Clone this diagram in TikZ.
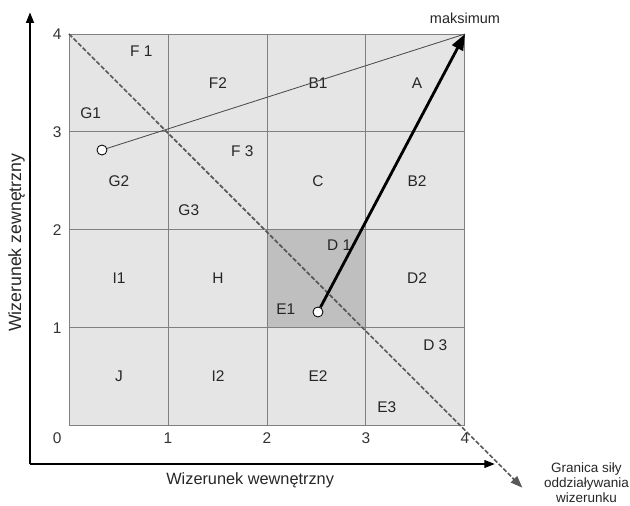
\documentclass[tikz,border=0pt]{standalone}
\usepackage{fontspec}
\setmainfont{Liberation Sans}
\usetikzlibrary{arrows.meta,positioning}
\definecolor{cellgray}{gray}{0.90}
\definecolor{markgray}{gray}{0.75}
\definecolor{linegray}{gray}{0.50}
\tikzset{
  field/.style={font=\fontsize{11}{13}\selectfont, text=black!85, inner sep=1pt},
  tick/.style={font=\fontsize{11}{13}\selectfont, text=black!80, inner sep=1pt},
  axislabel/.style={font=\fontsize{11.6}{14}\selectfont, text=black!85, inner sep=1pt},
  note/.style={font=\fontsize{9.6}{10.7}\selectfont, text=black!85, align=center, inner sep=1pt},
  dot/.style={circle, draw=black, fill=white, line width=0.6pt, minimum size=0.25cm, inner sep=0pt},
  axis/.style={-{Triangle[length=2.6mm, width=2mm]}, line width=0.8pt, draw=black},
  border/.style={-{Triangle[length=3mm, width=2.2mm]}, line width=1.2pt, draw=black!65, dash pattern=on 3.2pt off 1.4pt},
  path/.style={line width=0.6pt, draw=black!70},
  move/.style={-{Triangle[length=4mm, width=3mm]}, line width=2pt, draw=black}
}

\begin{document}
\begin{tikzpicture}[x=2.475cm, y=2.45cm]
  \useasboundingbox (-0.697,-0.816) rectangle (5.667,4.347);

  % pola macierzy
  \fill[cellgray] (0,0) rectangle (4,4);
  \fill[markgray] (2,1) rectangle (3,2);
  \foreach \i in {0,...,4} {
    \draw[linegray, line width=0.7pt] (\i,0) -- (\i,4);
    \draw[linegray, line width=0.7pt] (0,\i) -- (4,\i);
  }

  % osie
  \coordinate (corner) at (-0.394,-0.388);
  \coordinate (ytop) at (-0.394,4.22);
  \coordinate (xend) at (4.30,-0.388);
  \draw[axis] (corner) -- (ytop);
  \draw[axis] (corner) -- (xend);

  \foreach \v in {1,2,3,4} {
    \node[tick] (x\v) at (\v,-0.12) {\v};
    \node[tick] (y\v) at (-0.12,\v) {\v};
  }
  \node[tick] (zero) at (-0.12,-0.12) {0};

  \node[axislabel] (xlab) at (1.83,-0.55) {Wizerunek wewnętrzny};
  \node[axislabel, font=\fontsize{12.6}{15}\selectfont, rotate=90] (ylab) at (-0.53,1.87) {Wizerunek zewnętrzny};

  % opisy pól
  \node[field] (F1) at (0.73,3.82) {F 1};
  \node[field] (F2) at (1.505,3.50) {F2};
  \node[field] (B1) at (2.515,3.50) {B1};
  \node[field] (A) at (3.515,3.50) {A};
  \node[field] (G1) at (0.22,3.19) {G1};
  \node[field] (F3) at (1.75,2.80) {F 3};
  \node[field] (G2) at (0.505,2.50) {G2};
  \node[field] (C) at (2.515,2.50) {C};
  \node[field] (B2) at (3.515,2.50) {B2};
  \node[field] (G3) at (1.21,2.20) {G3};
  \node[field] (D1) at (2.73,1.84) {D 1};
  \node[field] (I1) at (0.505,1.51) {I1};
  \node[field] (H) at (1.505,1.51) {H};
  \node[field] (D2) at (3.515,1.51) {D2};
  \node[field] (E1) at (2.19,1.19) {E1};
  \node[field] (D3) at (3.70,0.82) {D 3};
  \node[field] (J) at (0.505,0.51) {J};
  \node[field] (I2) at (1.505,0.51) {I2};
  \node[field] (E2) at (2.515,0.51) {E2};
  \node[field] (E3) at (3.21,0.19) {E3};

  % granica
  \coordinate (bstart) at (0,4);
  \coordinate (bend) at (4.58,-0.63);
  \draw[border] (bstart) -- (bend);
  \node[note, right=0.5cm of bend, yshift=0.12cm] (limit) {Granica siły\\oddziaływania\\wizerunku};

  % maksimum i ruchy
  \coordinate (max) at (4,4);
  \node[field, font=\fontsize{10.3}{12}\selectfont, anchor=base] (maxlab) at ([yshift=0.27cm]max) {maksimum};
  \node[dot] (p1) at (0.333,2.816) {};
  \node[dot] (p2) at (2.515,1.163) {};
  \draw[path] (p1) -- (max);
  \draw[move] (p2) -- (max);
\end{tikzpicture}
\end{document}
